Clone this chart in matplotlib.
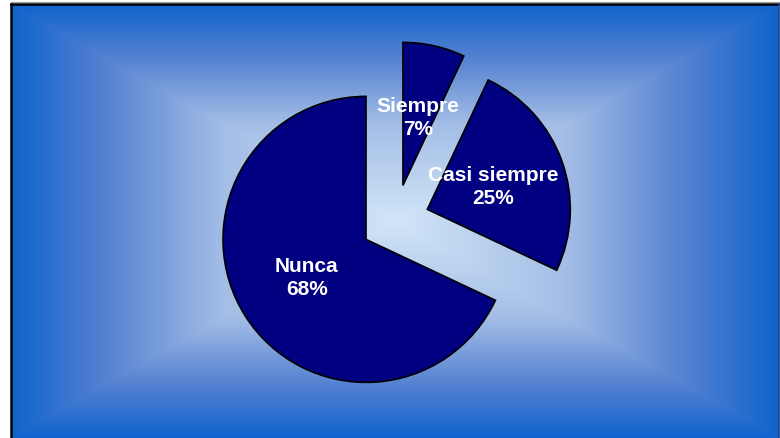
import numpy as np
import matplotlib
matplotlib.use("Agg")
import matplotlib.pyplot as plt
from matplotlib.colors import LinearSegmentedColormap

# Survey answers, counterclockwise from the top
categories = ["Nunca", "Casi siempre", "Siempre"]
percentages = [68, 25, 7]

W, H, DPI = 780, 439, 100
fig = plt.figure(figsize=(W / DPI, H / DPI), dpi=DPI)
fig.patch.set_facecolor("white")

# Framed background with a rectangular gradient, light centre -> blue edges
box_l, box_r, box_t, box_b = 11, 779, 5, 439
bg = fig.add_axes([box_l / W, (H - box_b) / H, (box_r - box_l) / W, (box_b - box_t) / H])
nx, ny = box_r - box_l, box_b - box_t
xs = np.linspace(-1, 1, nx)
ys = np.linspace(-1, 1, ny)
X, Y = np.meshgrid(xs, ys)
T = np.maximum(np.abs(X), np.abs(Y))
grad = LinearSegmentedColormap.from_list(
    "frame",
    [(0.0, (0.82, 0.90, 0.97)),
     (0.45, (0.64, 0.74, 0.90)),
     (0.75, (0.34, 0.51, 0.82)),
     (1.0, (0.06, 0.39, 0.80))])
bg.imshow(T, cmap=grad, vmin=0, vmax=1, aspect="auto",
          extent=(0, 1, 0, 1), interpolation="bilinear")
bg.set_xlim(0, 1)
bg.set_ylim(0, 1)
bg.axis("off")

# Frame lines
fig.add_artist(plt.Line2D([box_l / W, box_l / W], [0, (H - box_t) / H],
                          color="black", lw=1.8, transform=fig.transFigure))
fig.add_artist(plt.Line2D([box_l / W, box_r / W], [(H - box_t) / H, (H - box_t) / H],
                          color="black", lw=1.8, transform=fig.transFigure))
fig.add_artist(plt.Line2D([box_l / W, box_r / W], [(H - box_t + 1.6) / H, (H - box_t + 1.6) / H],
                          color="#9a9a9a", lw=0.8, transform=fig.transFigure))
fig.add_artist(plt.Line2D([(box_r - 0.5) / W, (box_r - 0.5) / W], [0, (H - box_t) / H],
                          color="#1a3f8a", lw=1.2, transform=fig.transFigure))

# Pie chart (1 data unit = 143 px, pie centre at pixel (395, 222))
ax = fig.add_axes([0, 0, 1, 1])
ax.patch.set_alpha(0)
R_PX = 143.0
cx_px, cy_px = 395.0, 222.0

wedges, texts, autotexts = ax.pie(
    percentages,
    explode=[0.24, 0.24, 0.255],
    startangle=90,
    counterclock=True,
    colors=["#000080"] * len(percentages),
    wedgeprops=dict(edgecolor="black", linewidth=1.2),
    autopct="%1.0f%%",
    pctdistance=0.49,
)
for name, pct, t in zip(categories, percentages, autotexts):
    t.set_text(f"{name}\n{pct}%")
    t.set_color("white")
    t.set_fontsize(15)
    t.set_fontweight("bold")
    t.set_family(["Liberation Sans", "DejaVu Sans"])
    t.set_linespacing(1.25)
    t.set_ha("center")
    t.set_va("center")

ax.set_aspect("auto")
ax.set_xlim(-cx_px / R_PX, (W - cx_px) / R_PX)
ax.set_ylim(-(H - cy_px) / R_PX, cy_px / R_PX)
ax.axis("off")

fig.savefig("out.png", dpi=DPI)
